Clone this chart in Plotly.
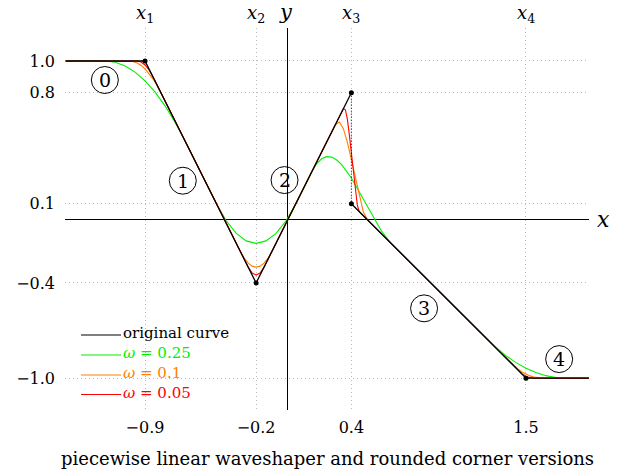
import plotly.graph_objects as go

# ---------------- data ----------------
orig_x = [-1.4, -0.9, -0.2, 0.4, 0.4, 1.5, 1.9]
orig_y = [1.0, 1.0, -0.4, 0.8, 0.1, -1.0, -1.0]

knot_x = [-0.9, -0.2, 0.4, 0.4, 1.5]
knot_y = [1.0, -0.4, 0.8, 0.1, -1.0]

green_x = [-1.4, -1.15, -1.0875, -1.025, -0.9625, -0.9, -0.8375, -0.775, -0.7125, -0.65,
           -0.45, -0.3875, -0.325, -0.2625, -0.2, -0.1375, -0.075, -0.0125, 0.05,
           0.15, 0.18125, 0.2125, 0.24375, 0.275, 0.30625, 0.3375, 0.4, 0.4625, 0.525, 0.5875, 0.65,
           1.25, 1.3125, 1.375, 1.4375, 1.5, 1.5625, 1.625, 1.6875, 1.75, 1.9]
green_y = [1.0, 1.0, 0.9922, 0.9688, 0.9297, 0.875, 0.8047, 0.7188, 0.6172, 0.5,
           0.1, -0.0094, -0.0875, -0.1344, -0.15, -0.1344, -0.0875, -0.0094, 0.1,
           0.3, 0.3517, 0.3832, 0.3965, 0.3938, 0.3769, 0.348, 0.2625, 0.1535, 0.0375, -0.0691, -0.15,
           -0.75, -0.8086, -0.8594, -0.9023, -0.9375, -0.9648, -0.9844, -0.9961, -1.0, -1.0]

orange_x = [-1.4, -1.0, -0.975, -0.95, -0.925, -0.9, -0.875, -0.85, -0.825, -0.8,
            -0.3, -0.275, -0.25, -0.225, -0.2, -0.175, -0.15, -0.125, -0.1,
            0.3, 0.325, 0.35, 0.375, 0.4, 0.425, 0.45, 0.475, 0.5,
            1.4, 1.425, 1.45, 1.475, 1.5, 1.525, 1.55, 1.575, 1.6, 1.9]
orange_y = [1.0, 1.0, 0.9969, 0.9875, 0.9719, 0.95, 0.9219, 0.8875, 0.8469, 0.8,
            -0.2, -0.2438, -0.275, -0.2938, -0.3, -0.2938, -0.275, -0.2438, -0.2,
            0.6, 0.6152, 0.5719, 0.4863, 0.375, 0.2543, 0.1406, 0.0504, 0.0,
            -0.9, -0.9234, -0.9438, -0.9609, -0.975, -0.9859, -0.9938, -0.9984, -1.0, -1.0]

red_x = [-1.4, -0.95, -0.925, -0.9, -0.875, -0.85,
         -0.25, -0.225, -0.2, -0.175, -0.15,
         0.35, 0.3625, 0.375, 0.3875, 0.4, 0.4125, 0.425, 0.4375, 0.45,
         1.45, 1.475, 1.5, 1.525, 1.55, 1.9]
red_y = [1.0, 1.0, 0.9938, 0.975, 0.9438, 0.9,
         -0.3, -0.3375, -0.35, -0.3375, -0.3,
         0.7, 0.6926, 0.6313, 0.5324, 0.4125, 0.2879, 0.175, 0.0902, 0.05,
         -0.95, -0.9719, -0.9875, -0.9969, -1.0, -1.0]

x_ticks = [-0.9, -0.2, 0.4, 1.5]
x_tick_text = ["\u22120.9", "\u22120.2", "0.4", "1.5"]
y_ticks = [1.0, 0.8, 0.1, -0.4, -1.0]
y_tick_text = ["1.0", "0.8", "0.1", "\u22120.4", "\u22121.0"]
top_labels = ["<i>x</i><sub>1</sub>", "<i>x</i><sub>2</sub>", "<i>x</i><sub>3</sub>", "<i>x</i><sub>4</sub>"]

region_labels = ["0", "1", "2", "3", "4"]
region_x = [-1.153, -0.662, -0.021, 0.858, 1.709]
region_y = [0.880, 0.245, 0.249, -0.560, -0.880]

legend_labels = ["original curve", "<i>ω</i> = 0.25", "<i>ω</i> = 0.1", "<i>ω</i> = 0.05"]

title_text = "piecewise linear waveshaper and rounded corner versions"

FONT = "DejaVu Serif"
GREEN = "#00f000"
ORANGE = "#ff8000"
RED = "#ff0000"
legend_colors = ["black", GREEN, ORANGE, RED]

fig = go.Figure()

for xs, ys, col in [(green_x, green_y, GREEN), (orange_x, orange_y, ORANGE), (red_x, red_y, RED)]:
    fig.add_trace(go.Scatter(x=xs, y=ys, mode="lines",
                             line=dict(color=col, width=1.1), showlegend=False))

# original curve: two pieces, jump drawn dotted
fig.add_trace(go.Scatter(x=orig_x[:4], y=orig_y[:4], mode="lines",
                         line=dict(color="black", width=1.3), showlegend=False))
fig.add_trace(go.Scatter(x=orig_x[4:], y=orig_y[4:], mode="lines",
                         line=dict(color="black", width=1.3), showlegend=False))
fig.add_trace(go.Scatter(x=orig_x[3:5], y=orig_y[3:5], mode="lines",
                         line=dict(color="black", width=1, dash="1px,2px"),
                         showlegend=False))
fig.add_trace(go.Scatter(x=knot_x, y=knot_y, mode="markers",
                         marker=dict(color="black", size=5), showlegend=False))

annotations = []
for xv, t in zip(x_ticks, top_labels):
    annotations.append(dict(x=xv, y=1.037, xref="x", yref="paper", text=t,
                            showarrow=False, font=dict(family=FONT, size=18),
                            yanchor="middle"))
annotations.append(dict(x=0, y=1.042, xref="x", yref="paper", text="<i>y</i>",
                        showarrow=False, font=dict(family=FONT, size=21),
                        xshift=-2, yanchor="middle"))
annotations.append(dict(x=1.0286, y=0, xref="paper", yref="y", text="<i>x</i>",
                        showarrow=False, font=dict(family=FONT, size=22),
                        xanchor="center", yanchor="middle"))
annotations.append(dict(x=0.5, y=-0.1257, xref="paper", yref="paper", text=title_text,
                        showarrow=False, font=dict(family=FONT, size=18),
                        yanchor="middle"))

shapes = []
R = 0.085
for t, cx, cy in zip(region_labels, region_x, region_y):
    shapes.append(dict(type="circle", xref="x", yref="y",
                       x0=cx - R, x1=cx + R, y0=cy - R, y1=cy + R,
                       line=dict(color="black", width=1)))
    annotations.append(dict(x=cx, y=cy, xref="x", yref="y", text=t, showarrow=False,
                            font=dict(family=FONT, size=19), yanchor="middle",
                            xanchor="center"))

# manual legend (pixel positions converted to paper fractions)
PL, PW, PB, PH = 65, 524, 410, 382
leg_line_y = [335, 355, 375, 394.5]
for lab, col, py in zip(legend_labels, legend_colors, leg_line_y):
    yp = (PB - py) / PH
    shapes.append(dict(type="line", xref="paper", yref="paper",
                       x0=(81 - PL) / PW, x1=(121 - PL) / PW, y0=yp, y1=yp,
                       line=dict(color=col, width=1.1)))
    annotations.append(dict(x=(121 - PL) / PW, y=yp, xref="paper", yref="paper",
                            text=lab, showarrow=False, xanchor="left", yanchor="middle",
                            yshift=2, font=dict(family=FONT, size=15, color=col)))

axis_common = dict(showgrid=True, gridcolor="#b8b8b8", griddash="1px,3px", gridwidth=1,
                   zeroline=True, zerolinecolor="black", zerolinewidth=1,
                   showline=False, ticks="", tickfont=dict(family=FONT, size=16),
                   fixedrange=True)

fig.update_xaxes(range=[-1.404, 1.897], tickvals=x_ticks, ticktext=x_tick_text,
                 ticklabelstandoff=6, **axis_common)
fig.update_yaxes(range=[-1.201, 1.208], tickvals=y_ticks, ticktext=y_tick_text,
                 ticklabelstandoff=9, **axis_common)

fig.update_layout(
    width=626, height=475,
    margin=dict(l=65, r=37, t=28, b=65),
    plot_bgcolor="white", paper_bgcolor="white",
    font=dict(family=FONT, size=16, color="black"),
    showlegend=False,
    annotations=annotations, shapes=shapes,
)

fig.write_html("out.html")
